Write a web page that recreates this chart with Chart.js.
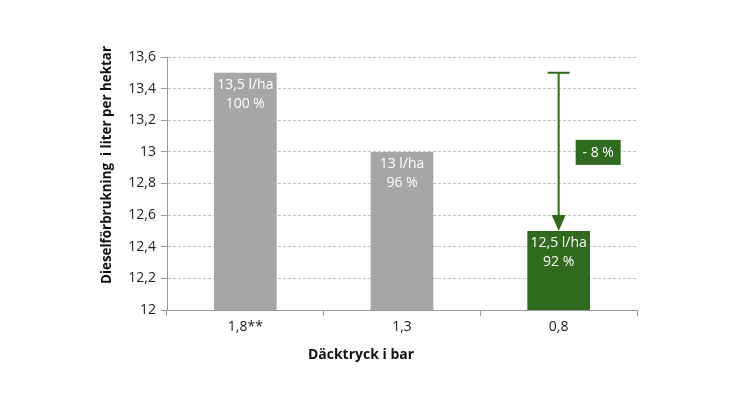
<!DOCTYPE html>
<html>
<head>
<meta charset="utf-8">
<script src="https://cdn.jsdelivr.net/npm/chart.js@4"></script>
<style>
  html, body { margin: 0; padding: 0; background: #fff; }
  #wrap { width: 735px; height: 412px; }
</style>
</head>
<body>
<div id="wrap"><canvas id="dieselChart"></canvas></div>
<script>
// data
var categories = ['1,8**', '1,3', '0,8'];
var dieselValues = [13.5, 13.0, 12.5];
var valueLabels = ['13,5 l/ha', '13 l/ha', '12,5 l/ha'];
var percentLabels = ['100 %', '96 %', '92 %'];
var barColors = ['#a6a6a6', '#a6a6a6', '#2f6a1f'];
var diffLabel = '- 8 %';
var xTitle = 'Däcktryck i bar';
var yTitle = 'Dieselförbrukning  i liter per hektar';
var yMin = 12, yMax = 13.6, yStep = 0.2;

var green = '#2f6a1f';
var fontFamily = '"Open Sans", "DejaVu Sans", sans-serif';

// white text inside the top of each bar
var barTextPlugin = {
  id: 'barText',
  afterDatasetsDraw: function(chart) {
    var ctx = chart.ctx;
    var meta = chart.getDatasetMeta(0);
    ctx.save();
    ctx.fillStyle = '#ffffff';
    ctx.font = '14px ' + fontFamily;
    ctx.textAlign = 'center';
    ctx.textBaseline = 'middle';
    meta.data.forEach(function(bar, i) {
      ctx.fillText(valueLabels[i], bar.x, bar.y + 12);
      ctx.fillText(percentLabels[i], bar.x, bar.y + 31);
    });
    ctx.restore();
  }
};

// arrow from the first bar's level down to the last bar
var arrowPlugin = {
  id: 'arrow',
  afterDatasetsDraw: function(chart) {
    var ctx = chart.ctx;
    var yScale = chart.scales.y;
    var last = chart.getDatasetMeta(0).data[dieselValues.length - 1];
    var x = last.x;
    var yTop = yScale.getPixelForValue(dieselValues[0]);
    var yEnd = yScale.getPixelForValue(dieselValues[dieselValues.length - 1]);
    ctx.save();
    ctx.strokeStyle = green;
    ctx.fillStyle = green;
    ctx.lineWidth = 2;
    ctx.beginPath();
    ctx.moveTo(x - 11, yTop);
    ctx.lineTo(x + 11, yTop);
    ctx.moveTo(x, yTop);
    ctx.lineTo(x, yEnd - 14);
    ctx.stroke();
    ctx.beginPath();
    ctx.moveTo(x - 7, yEnd - 16);
    ctx.lineTo(x + 7, yEnd - 16);
    ctx.lineTo(x, yEnd);
    ctx.closePath();
    ctx.fill();

    // label box
    var boxY = yScale.getPixelForValue((dieselValues[0] + dieselValues[dieselValues.length - 1]) / 2);
    ctx.fillRect(x + 17, boxY - 12, 45, 25);
    ctx.fillStyle = '#ffffff';
    ctx.font = '14px ' + fontFamily;
    ctx.textAlign = 'center';
    ctx.textBaseline = 'middle';
    ctx.fillText(diffLabel, x + 39.5, boxY + 1);
    ctx.restore();
  }
};

// axis titles (the original sits a bit off the plot centre)
var titlePlugin = {
  id: 'axisTitles',
  afterDraw: function(chart) {
    var ctx = chart.ctx;
    var area = chart.chartArea;
    ctx.save();
    ctx.fillStyle = '#111';
    ctx.textAlign = 'center';
    ctx.textBaseline = 'middle';
    ctx.font = 'bold 14px ' + fontFamily;
    ctx.fillText(xTitle, area.left + 194, area.bottom + 45);
    ctx.translate(area.left - 60, area.top + 108);
    ctx.rotate(-Math.PI / 2);
    ctx.font = 'bold 13.4px ' + fontFamily;
    ctx.fillText(yTitle, 0, 0);
    ctx.restore();
  }
};

var ctx = document.getElementById('dieselChart').getContext('2d');
var dieselChart = new Chart(ctx, {
  type: 'bar',
  data: {
    labels: categories,
    datasets: [{
      data: dieselValues,
      backgroundColor: barColors,
      barPercentage: 0.4,
      categoryPercentage: 1.0
    }]
  },
  options: {
    responsive: true,
    maintainAspectRatio: false,
    animation: false,
    layout: { padding: { left: 95, right: 98, top: 57, bottom: 45 } },
    plugins: {
      legend: { display: false },
      tooltip: { enabled: false }
    },
    scales: {
      x: {
        grid: {
          display: true,
          offset: true,
          drawOnChartArea: false,
          drawTicks: true,
          tickLength: 6,
          color: '#999999'
        },
        border: { color: '#999999' },
        ticks: { color: '#222', font: { family: fontFamily, size: 14 }, padding: 3 },
        afterFit: function(scale) { scale.height = 57; }
      },
      y: {
        min: yMin,
        max: yMax,
        ticks: {
          stepSize: yStep,
          color: '#222',
          font: { family: fontFamily, size: 14 },
          padding: 5,
          callback: function(v) { return String(Math.round(v * 10) / 10).replace('.', ','); }
        },
        grid: {
          color: '#bfbfbf',
          tickBorderDash: [],
          tickColor: '#999999',
          tickLength: 6
        },
        border: { color: '#999999', dash: [3, 2] },
        afterFit: function(scale) { scale.width = 72; }
      }
    }
  },
  plugins: [barTextPlugin, arrowPlugin, titlePlugin]
});
</script>
</body>
</html>
